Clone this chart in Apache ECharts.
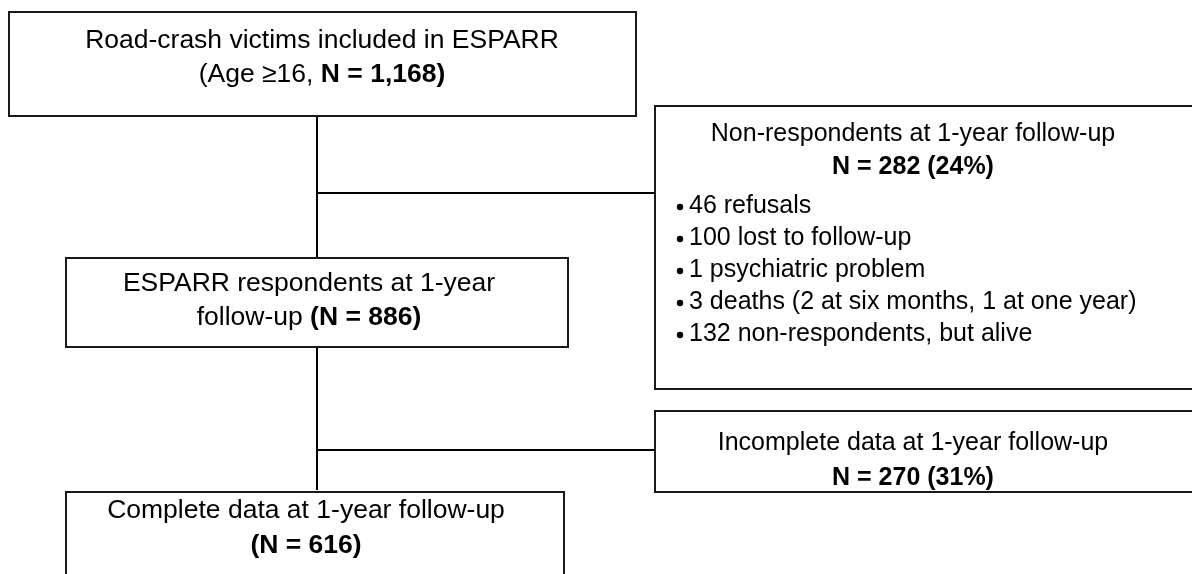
<!DOCTYPE html>
<html><head><meta charset="utf-8">
<script src="https://cdn.jsdelivr.net/npm/echarts@6/dist/echarts.min.js"></script>
<style>html,body{margin:0;padding:0;background:#fff}#c{width:1192px;height:574px}</style>
</head><body><div id="c"></div>
<script>
// ---- data ----
const stageNames = ["Road-crash victims included in ESPARR", "ESPARR respondents at 1-year follow-up", "Complete data at 1-year follow-up"];
const stageCounts = [1168, 886, 616];
const minAge = 16;
const exclusionNames = ["Non-respondents at 1-year follow-up", "Incomplete data at 1-year follow-up"];
const exclusionCounts = [282, 270];
const exclusionPercents = [24, 31];
const nonRespondentReasons = ["46 refusals", "100 lost to follow-up", "1 psychiatric problem", "3 deaths (2 at six months, 1 at one year)", "132 non-respondents, but alive"];

// ---- layout (pixel space of hidden axes) ----
const W = 1192, H = 574;
const FONT = '"Liberation Sans", Arial, sans-serif';
const FS_L = 26.5, FS_R = 25;
const fmt = v => v.toLocaleString('en-US');

const s1Words = stageNames[1].split(' ');
const boxes = [
  { r: [9, 12, 636, 116], cx: 322, fs: FS_L, lines: [[41, stageNames[0]], [75, `(Age \u2265${minAge}, {b|N = ${fmt(stageCounts[0])})}`]] },
  { r: [66, 258, 568, 347], cx: 309, fs: FS_L, lines: [[284, s1Words.slice(0, 4).join(' ')], [318, s1Words.slice(4).join(' ') + ` {b|(N = ${fmt(stageCounts[1])})}`]] },
  { r: [66, 492, 564, 640], cx: 306, fs: FS_L, lines: [[511, stageNames[2]], [546, `{b|(N = ${fmt(stageCounts[2])})}`]] },
  { r: [655, 106, 1215, 389], cx: 913, fs: FS_R, lines: [[134, exclusionNames[0]], [167, `{b|N = ${exclusionCounts[0]} (${exclusionPercents[0]}%)}`]],
    bullets: { x: 680, tx: 689, y0: 206, dy: 32, items: nonRespondentReasons } },
  { r: [655, 411, 1215, 492], cx: 913, fs: FS_R, lines: [[443, exclusionNames[1]], [478, `{b|N = ${exclusionCounts[1]} (${exclusionPercents[1]}%)}`]] }
];
const connectors = [
  [[317, 116], [317, 258]],
  [[317, 193], [655, 193]],
  [[317, 347], [317, 490]],
  [[317, 450], [655, 450]]
];

function renderBox(params, api) {
  const b = boxes[params.dataIndex];
  const p0 = api.coord([b.r[0], b.r[1]]);
  const p1 = api.coord([b.r[2], b.r[3]]);
  const rich = { b: { fontWeight: 'bold', fontSize: b.fs, fontFamily: FONT, fill: '#000' } };
  const children = [];
  children.push({ type: 'rect', shape: { x: p0[0], y: p0[1], width: p1[0] - p0[0], height: p1[1] - p0[1] },
    style: { fill: '#fff', stroke: null } });
  b.lines.forEach(([ly, txt]) => {
    const p = api.coord([b.cx, ly]);
    children.push({ type: 'text', style: { text: txt, x: p[0], y: p[1], align: 'center', verticalAlign: 'middle',
      fontSize: b.fs, fontFamily: FONT, fill: '#000', rich } });
  });
  if (b.bullets) {
    b.bullets.items.forEach((it, i) => {
      const py = b.bullets.y0 + i * b.bullets.dy;
      const pb = api.coord([b.bullets.x, py]);
      const pt = api.coord([b.bullets.tx, py]);
      children.push({ type: 'circle', shape: { cx: pb[0], cy: pb[1] + 1, r: 3.2 }, style: { fill: '#000' } });
      children.push({ type: 'text', style: { text: it, x: pt[0], y: pt[1], align: 'left', verticalAlign: 'middle',
        fontSize: b.fs, fontFamily: FONT, fill: '#000' } });
    });
  }
  children.push({ type: 'rect', shape: { x: p0[0], y: p0[1], width: p1[0] - p0[0], height: p1[1] - p0[1] },
    style: { fill: null, stroke: '#1a1a1a', lineWidth: 2 } });
  return { type: 'group', children };
}

const chart = echarts.init(document.getElementById('c'), null, { renderer: 'canvas' });
chart.setOption({
  backgroundColor: '#fff',
  animation: false,
  grid: { left: 0, right: 0, top: 0, bottom: 0 },
  xAxis: { type: 'value', min: 0, max: W, show: false },
  yAxis: { type: 'value', min: 0, max: H, inverse: true, show: false },
  series: [
    { type: 'lines', coordinateSystem: 'cartesian2d', polyline: true, silent: true,
      lineStyle: { color: '#000', width: 2, opacity: 1 },
      data: connectors.map(c => ({ coords: c })) },
    { type: 'custom', coordinateSystem: 'cartesian2d', renderItem: renderBox, silent: true,
      data: boxes.map((b, i) => [i]) }
  ]
});
</script></body></html>
